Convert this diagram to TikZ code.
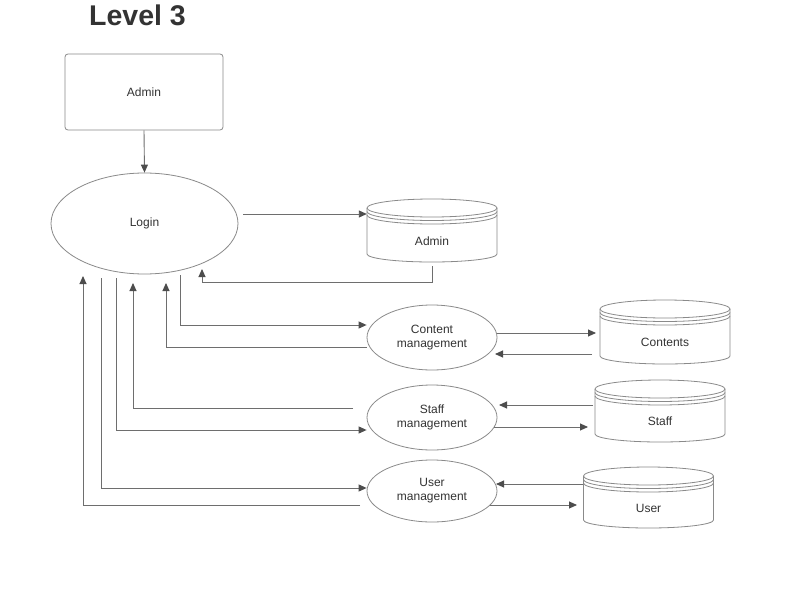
\documentclass[tikz,border=0pt]{standalone}
\usepackage{fontspec}
\setmainfont{Liberation Sans}
\usetikzlibrary{arrows.meta,shapes.geometric,calc}

\definecolor{edgegray}{HTML}{8A8A8A}
\definecolor{linegray}{HTML}{6E6E6E}
\definecolor{tipgray}{HTML}{4D4D4D}
\definecolor{ink}{HTML}{333333}

% data store: name, centre x, top y, bottom y, label
\newcommand\datastore[5]{%
  \node[minimum width=130pt, minimum height={(#4-#3)*1pt}, inner sep=0pt] (#1) at (#2,{(#3+#4)/2}) {};
  \draw[storeline] (#2-65,#3+9) -- (#2-65,#4-8)
    arc[start angle=180, end angle=360, x radius=65pt, y radius=8pt] -- (#2+65,#3+9);
  \draw[storeline] (#2,#3+9) ellipse[x radius=65pt, y radius=9pt];
  \draw[storeline] (#2-65,#3+12.5) arc[start angle=180, end angle=360, x radius=65pt, y radius=9pt];
  \draw[storeline] (#2-65,#3+16) arc[start angle=180, end angle=360, x radius=65pt, y radius=9pt];
  \node (#1-label) at (#2,{(#3+21+#4)/2}) {#5};
}

\begin{document}
\begin{tikzpicture}[x=1pt, y=-1pt,
  every node/.style={font=\fontsize{12}{14}\selectfont, text=ink},
  procbox/.style={ellipse, draw=edgegray, line width=0.8pt, inner sep=0pt, align=center},
  entitybox/.style={rectangle, rounded corners=3pt, draw=edgegray, line width=0.8pt,
    minimum width=158pt, minimum height=76pt},
  storeline/.style={draw=edgegray, line width=0.8pt},
  flow/.style={draw=linegray, line width=0.9pt,
    -{Triangle[length=8pt, width=7pt, color=tipgray]}}
]
\useasboundingbox (0,0) rectangle (808,610);
\fill[white] (0,0) rectangle (808,610);

% heading
\node[font=\fontsize{28.5}{32}\selectfont\bfseries, anchor=base west, inner sep=0pt] (title) at (89,26) {Level 3};

% external entity and processes
\node[entitybox] (adm) at (144,92) {Admin};
\node[procbox, minimum width=187pt, minimum height=101pt] (login) at (144.5,223.5) {\raisebox{-1pt}{Login}};
\node[procbox, minimum width=130pt, minimum height=65pt] (cm) at (432,337.5) {\raisebox{-1pt}{Content}\\\raisebox{-1pt}{management}};
\node[procbox, minimum width=130pt, minimum height=65pt] (sm) at (432,417.5) {\raisebox{-1pt}{Staff}\\\raisebox{-1pt}{management}};
\node[procbox, minimum width=130pt, minimum height=62pt] (um) at (432,491) {\raisebox{-1pt}{User}\\\raisebox{-1pt}{management}};

% data stores
\datastore{ads}{432}{199}{262}{Admin}
\datastore{cts}{665}{300}{364}{Contents}
\datastore{sts}{660}{380}{442}{Staff}
\datastore{uss}{648.5}{467}{528}{User}

% admin to login
\draw[flow] (adm.south) -- (login.north);

% login with admin store
\draw[flow] (243,214) -- (ads.west |- 0,214);
\draw[flow] ([yshift=-4pt]ads.south) -- (ads.south |- 0,282) -| (202,269);

% login with the management processes
\draw[flow] (180,275) |- (cm.west |- 0,325);
\draw[flow] (cm.west |- 0,347) -| (166,283);
\draw[flow] (353,408) -| (133,283);
\draw[flow] (116,278) |- (sm.west |- 0,430);
\draw[flow] (101,278) |- (um.west |- 0,488);
\draw[flow] (360,505) -| (83,276);

% processes with their stores
\draw[flow] (cm.east |- 0,333) -- (596,333);
\draw[flow] (592,354) -- (495,354);
\draw[flow] (593,405) -- (499,405);
\draw[flow] (494,427) -- (588,427);
\draw[flow] (uss.west |- 0,484) -- (496,484);
\draw[flow] (490,505) -- (577,505);
\end{tikzpicture}
\end{document}
